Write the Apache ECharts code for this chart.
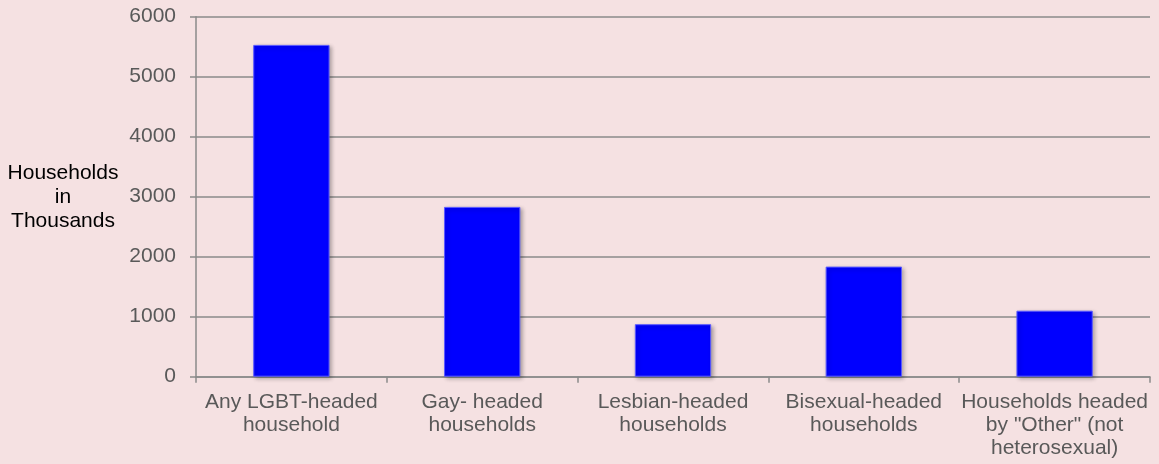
<!DOCTYPE html>
<html>
<head>
<meta charset="utf-8">
<script src="https://cdn.jsdelivr.net/npm/echarts@6/dist/echarts.min.js"></script>
<style>
html,body{margin:0;padding:0;background:#f5e1e2;}
#chart{width:1159px;height:464px;}
</style>
</head>
<body>
<div id="chart"></div>
<script>
const categories = [
  'Any LGBT-headed\nhousehold',
  'Gay- headed\nhouseholds',
  'Lesbian-headed\nhouseholds',
  'Bisexual-headed\nhouseholds',
  'Households headed\nby "Other" (not\nheterosexual)'
];
const values = [5530, 2830, 875, 1835, 1100];
const yAxisTitle = 'Households\nin\nThousands';

const FONT = '"Liberation Sans", Arial, sans-serif';
const chart = echarts.init(document.getElementById('chart'));
chart.setOption({
  backgroundColor: '#f5e1e2',
  animation: false,
  textStyle: { fontFamily: FONT },
  grid: { left: 196, right: 9, top: 16.7, bottom: 87.3, containLabel: false },
  graphic: [{
    type: 'text',
    x: 63, y: 197,
    style: {
      text: yAxisTitle,
      fill: '#000',
      font: '21px ' + FONT,
      textAlign: 'center',
      textVerticalAlign: 'middle',
      align: 'center',
      verticalAlign: 'middle',
      lineHeight: 24
    }
  }],
  xAxis: {
    type: 'category',
    data: categories,
    axisLine: { lineStyle: { color: '#8a8a8a', width: 1.5 } },
    axisTick: { show: true, length: 6, lineStyle: { color: '#8a8a8a', width: 1.5 } },
    axisLabel: {
      color: '#595959', fontSize: 21, lineHeight: 23, margin: 14, interval: 0,
      fontFamily: FONT
    }
  },
  yAxis: {
    type: 'value',
    min: 0, max: 6000, interval: 1000,
    axisLine: { show: true, lineStyle: { color: '#8a8a8a', width: 1.5 } },
    axisTick: { show: true, length: 6, lineStyle: { color: '#8a8a8a', width: 1.5 } },
    axisLabel: { color: '#595959', fontSize: 21, margin: 20, fontFamily: FONT,
      formatter: function (v) { return String(v); } },
    splitLine: { lineStyle: { color: '#8a8a8a', width: 1.5 } }
  },
  series: [{
    type: 'bar',
    data: values,
    barWidth: '40%',
    itemStyle: {
      color: '#0000ff',
      borderColor: '#5a5aff',
      borderWidth: 1,
      shadowColor: 'rgba(0,0,0,0.3)',
      shadowBlur: 4,
      shadowOffsetX: 2,
      shadowOffsetY: 2
    }
  }]
});
</script>
</body>
</html>
